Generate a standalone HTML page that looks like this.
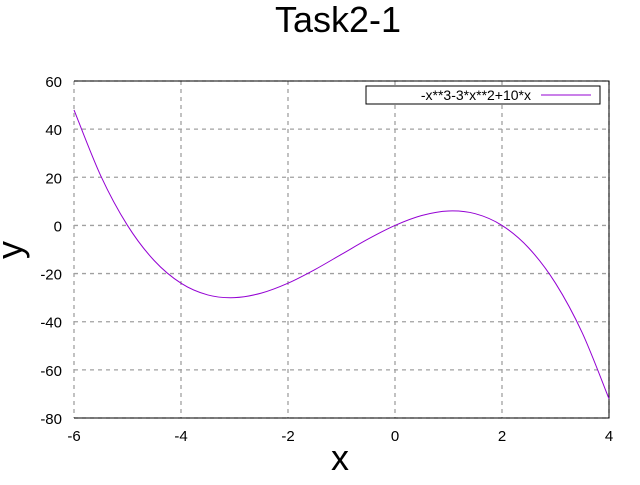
<!DOCTYPE html>
<html><head><meta charset="utf-8"><style>
body{margin:0;background:#fff;}
svg text{font-family:"Liberation Sans",sans-serif;}
</style></head><body>
<svg id="chart" width="640" height="480" xmlns="http://www.w3.org/2000/svg">
<text x="338" y="32" font-size="36" text-anchor="middle">Task2-1</text>
<g id="grid"></g>
<g id="ticks"></g>
<path d="M74,81 H609 V418 H74" fill="none" stroke="#000" stroke-width="1"/>
<g id="series"></g>
<rect x="366" y="86" width="234" height="18" fill="#fff" stroke="#000"/>
<text x="531" y="100" font-size="14" text-anchor="end">-x**3-3*x**2+10*x</text>
<line x1="541" y1="95" x2="591" y2="95" stroke="#9400d3" stroke-width="1"/>
<text x="340" y="470" font-size="36" text-anchor="middle">x</text>
<text x="0" y="0" font-size="36" text-anchor="middle" transform="translate(22,250) rotate(-90)">y</text>
</svg>
<script>
const xs=[-6,-5.5,-5,-4.5,-4,-3.5,-3,-2.5,-2,-1.5,-1,-0.5,0,0.5,1,1.5,2,2.5,3,3.5,4];
const ys=[48,20.625,0,-14.625,-24,-28.875,-30,-28.125,-24,-18.375,-12,-5.625,0,4.125,6,4.875,0,-9.375,-24,-44.625,-72];
const xTicks=[-6,-4,-2,0,2,4];
const yTicks=[-80,-60,-40,-20,0,20,40,60];
const L=74,R=609,T=81,B=418,xmin=-6,xmax=4,ymin=-80,ymax=60;
const sx=v=>L+(v-xmin)/(xmax-xmin)*(R-L);
const sy=v=>B-(v-ymin)/(ymax-ymin)*(B-T);
const NS="http://www.w3.org/2000/svg";
const g=document.getElementById('grid'),tk=document.getElementById('ticks'),se=document.getElementById('series');
function mk(tag,at,parent){const e=document.createElementNS(NS,tag);for(const k in at)e.setAttribute(k,at[k]);parent.appendChild(e);return e;}
xTicks.forEach(v=>{
 const x=sx(v);
 const l=mk('line',{x1:x,y1:T,x2:x,y2:B,stroke:'#a0a0a0','stroke-width':1.3,'stroke-dasharray':'4,4'},g);
 
 
 const t=mk('text',{x:x,y:B+23,'font-size':15,'text-anchor':'middle'},tk);t.textContent=v;
 
 
});
yTicks.forEach(v=>{
 const y=sy(v);
 const l=mk('line',{x1:L,y1:y,x2:R,y2:y,stroke:'#a0a0a0','stroke-width':1.3,'stroke-dasharray':'4,4'},g);
 
 
 const t=mk('text',{x:L-12,y:y+6,'font-size':15,'text-anchor':'end'},tk);t.textContent=v;
 
 
});
const P=xs.map((x,i)=>[sx(x),sy(ys[i])]);
let d='M'+P[0][0]+','+P[0][1];
for(let i=0;i<P.length-1;i++){
 const p0=P[Math.max(0,i-1)],p1=P[i],p2=P[i+1],p3=P[Math.min(P.length-1,i+2)];
 const c1=[p1[0]+(p2[0]-p0[0])/6,p1[1]+(p2[1]-p0[1])/6];
 const c2=[p2[0]-(p3[0]-p1[0])/6,p2[1]-(p3[1]-p1[1])/6];
 d+=' C'+c1+' '+c2+' '+p2;
}
const path=mk('path',{d:d,fill:'none',stroke:'#9400d3','stroke-width':1},se);


</script>
</body></html>
